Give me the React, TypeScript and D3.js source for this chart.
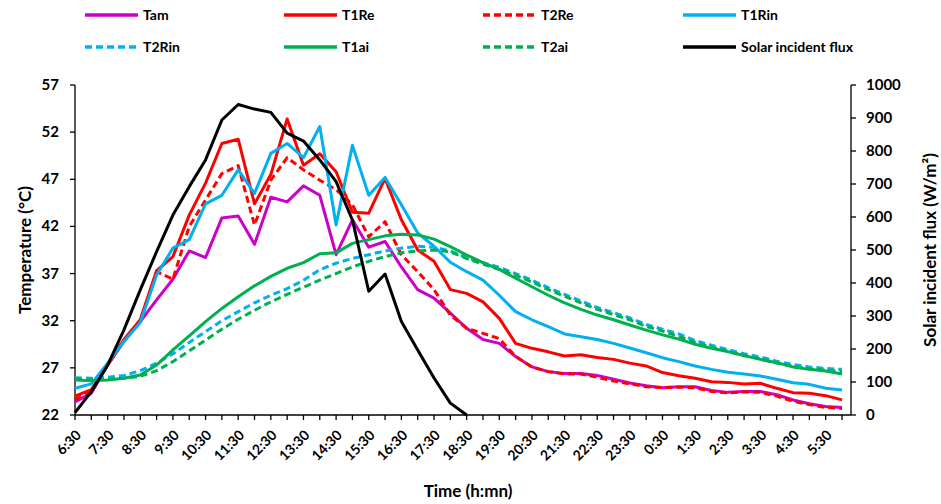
import React from "react";
import * as d3 from "d3";

// half-hour slots, 6:30 -> 6:00 next day
const timeSlots = [
  "6:30", "7:00", "7:30", "8:00", "8:30", "9:00", "9:30", "10:00", "10:30", "11:00",
  "11:30", "12:00", "12:30", "13:00", "13:30", "14:00", "14:30", "15:00", "15:30", "16:00",
  "16:30", "17:00", "17:30", "18:00", "18:30", "19:00", "19:30", "20:00", "20:30", "21:00",
  "21:30", "22:00", "22:30", "23:00", "23:30", "0:00", "0:30", "1:00", "1:30", "2:00",
  "2:30", "3:00", "3:30", "4:00", "4:30", "5:00", "5:30", "6:00",
];

const tam = [
  23.4, 24.3, 27.3, 29.8, 31.9, 34.2, 36.4, 39.4, 38.7, 42.9, 43.1, 40.1, 45.1, 44.6, 46.3, 45.3,
  39.0, 42.7, 39.8, 40.4, 37.7, 35.3, 34.4, 32.8, 31.2, 30.0, 29.6, 28.2, 27.1, 26.6, 26.4, 26.4,
  26.2, 25.8, 25.4, 25.1, 24.9, 25.0, 25.0, 24.6, 24.4, 24.5, 24.5, 24.15, 23.6, 23.2, 22.9, 22.8,
];
const t1Re = [
  24.0, 24.7, 27.3, 30.0, 32.1, 37.3, 38.8, 43.2, 46.6, 50.8, 51.25, 44.4, 47.5, 53.4, 48.5, 49.7,
  47.8, 43.5, 43.4, 47.1, 42.7, 39.5, 38.3, 35.3, 34.9, 34.0, 32.25, 29.6, 29.07, 28.7, 28.26, 28.4,
  28.1, 27.9, 27.5, 27.2, 26.5, 26.17, 25.9, 25.53, 25.46, 25.3, 25.36, 24.83, 24.37, 24.3, 24.05, 23.6,
];
const t2Re = [
  23.65, 24.5, 27.3, 29.9, 32.0, 37.2, 36.4, 42.0, 44.8, 47.6, 48.45, 42.15, 46.9, 49.3, 48.0, 46.9,
  45.9, 44.3, 40.9, 42.5, 39.0, 37.2, 35.3, 32.6, 31.2, 30.66, 30.1, 28.2, 27.1, 26.6, 26.35, 26.35,
  26.0, 25.6, 25.3, 25.0, 24.9, 24.95, 24.9, 24.5, 24.35, 24.45, 24.4, 24.0, 23.45, 23.1, 22.8, 22.7,
];
const t1Rin = [
  24.83, 25.3, 27.5, 29.8, 31.8, 36.85, 39.7, 40.6, 44.4, 45.3, 48.0, 45.5, 49.75, 50.8, 49.3, 52.6,
  42.15, 50.6, 45.3, 47.2, 44.3, 41.3, 39.9, 38.2, 37.2, 36.3, 34.7, 32.96, 32.1, 31.37, 30.6, 30.3,
  30.0, 29.6, 29.1, 28.6, 28.08, 27.66, 27.2, 26.84, 26.53, 26.35, 26.14, 25.8, 25.43, 25.25, 24.83, 24.65,
];
const t2Rin = [
  25.96, 25.9, 26.0, 26.2, 26.7, 27.5, 28.5, 29.7, 30.84, 32.0, 32.96, 33.9, 34.7, 35.4, 36.3, 37.4,
  38.1, 38.6, 39.0, 39.4, 39.7, 39.9, 39.8, 39.4, 38.7, 38.16, 37.66, 37.0, 36.3, 35.5, 34.8, 34.1,
  33.4, 32.85, 32.3, 31.6, 31.1, 30.6, 29.9, 29.4, 28.95, 28.5, 28.15, 27.7, 27.35, 27.1, 26.95, 26.84,
];
const t1ai = [
  25.7, 25.64, 25.7, 25.9, 26.24, 27.3, 28.9, 30.4, 31.9, 33.3, 34.55, 35.7, 36.7, 37.56, 38.16, 39.1,
  39.2, 40.2, 40.6, 41.0, 41.16, 41.1, 40.65, 39.85, 38.97, 38.16, 37.45, 36.5, 35.6, 34.7, 33.9, 33.2,
  32.6, 32.1, 31.55, 31.0, 30.5, 30.05, 29.5, 29.07, 28.72, 28.3, 27.9, 27.55, 27.1, 26.84, 26.67, 26.35,
];
const t2ai = [
  25.8, 25.7, 25.8, 25.9, 26.1, 26.7, 27.66, 28.8, 29.95, 31.1, 32.15, 33.1, 34.0, 34.8, 35.55, 36.3,
  37.0, 37.7, 38.3, 38.8, 39.2, 39.4, 39.5, 39.3, 38.6, 38.0, 37.45, 36.8, 36.1, 35.3, 34.6, 33.9,
  33.2, 32.65, 32.1, 31.4, 30.9, 30.35, 29.7, 29.2, 28.75, 28.3, 27.95, 27.5, 27.15, 26.9, 26.75, 26.6,
];
// solar flux only recorded 6:30 -> 18:30
const solar = [
  7, 71, 151, 258, 379, 495, 606, 692, 773, 894, 941, 927, 917, 854, 830, 773,
  707, 591, 375, 427, 283, 197, 112, 36, 0,
];

const tempTicks = [22, 27, 32, 37, 42, 47, 52, 57];
const fluxTicks = [0, 100, 200, 300, 400, 500, 600, 700, 800, 900, 1000];

const font = "Lato, sans-serif";

const series = [
  { name: "Tam", values: tam, color: "#CC00CC", dash: null, axis: "T" },
  { name: "T1Re", values: t1Re, color: "#FF0000", dash: null, axis: "T" },
  { name: "T2Re", values: t2Re, color: "#FF0000", dash: "7,4", axis: "T" },
  { name: "T1Rin", values: t1Rin, color: "#00B0F0", dash: null, axis: "T" },
  { name: "T2Rin", values: t2Rin, color: "#00B0F0", dash: "7,4", axis: "T" },
  { name: "T1ai", values: t1ai, color: "#00B050", dash: null, axis: "T" },
  { name: "T2ai", values: t2ai, color: "#00B050", dash: "7,4", axis: "T" },
  { name: "Solar incident flux", values: solar, color: "#000000", dash: null, axis: "S" },
];

export default function App() {
  const width = 941;
  const height = 504;
  const plotLeft = 75;
  const plotRight = 851;
  const plotTop = 85;
  const plotBottom = 415;

  const x = d3.scaleLinear().domain([0, timeSlots.length - 1]).range([75, 842]);
  const yT = d3.scaleLinear().domain([22, 57]).range([plotBottom, plotTop]);
  const yS = d3.scaleLinear().domain([0, 1000]).range([plotBottom, plotTop]);

  const lineT = d3.line<number>().x((d, i) => x(i)).y((d) => yT(d));
  const lineS = d3.line<number>().x((d, i) => x(i)).y((d) => yS(d));

  // legend grid: 4 columns, 2 rows
  const legendCols = [85, 284, 483, 683];
  const legendRows = [15, 47];

  return (
    <svg
      width={width}
      height={height}
      style={{ position: "absolute", left: 0, top: 0, background: "#fff" }}
      fontFamily={font}
    >
      {/* legend */}
      {series.map((s, i) => {
        const lx = legendCols[i % 4];
        const ly = legendRows[Math.floor(i / 4)];
        return (
          <g key={s.name}>
            <line
              x1={lx}
              x2={lx + 53}
              y1={ly}
              y2={ly}
              stroke={s.color}
              strokeWidth={3.5}
              strokeDasharray={s.dash || undefined}
            />
            <text x={lx + 58} y={ly + 5} fontSize={14} fontWeight="bold">
              {s.name}
            </text>
          </g>
        );
      })}

      {/* axes */}
      <line x1={plotLeft} x2={plotLeft} y1={plotTop} y2={plotBottom} stroke="#000" strokeWidth={1.3} />
      <line x1={plotRight} x2={plotRight} y1={plotTop} y2={plotBottom} stroke="#000" strokeWidth={1.3} />
      <line x1={plotLeft} x2={plotRight} y1={plotBottom} y2={plotBottom} stroke="#000" strokeWidth={1.3} />

      {tempTicks.map((t) => (
        <g key={"t" + t}>
          <line x1={plotLeft - 5} x2={plotLeft} y1={yT(t)} y2={yT(t)} stroke="#000" strokeWidth={1.3} />
          <text x={59} y={yT(t) + 5} textAnchor="end" fontSize={15} fontWeight="bold">
            {t}
          </text>
        </g>
      ))}

      {fluxTicks.map((t) => (
        <g key={"f" + t}>
          <line x1={plotRight} x2={plotRight + 5} y1={yS(t)} y2={yS(t)} stroke="#000" strokeWidth={1.3} />
          <text x={866} y={yS(t) + 5} textAnchor="start" fontSize={15} fontWeight="bold">
            {t}
          </text>
        </g>
      ))}

      {timeSlots.map((lab, i) => (
        <g key={"x" + i}>
          <line x1={x(i)} x2={x(i)} y1={plotBottom} y2={plotBottom + 5} stroke="#000" strokeWidth={1.3} />
          {i % 2 === 0 && (
            <text
              transform={`translate(${x(i) + 7},${plotBottom + 21}) rotate(-45)`}
              textAnchor="end"
              fontSize={14}
              fontWeight="bold"
            >
              {lab}
            </text>
          )}
        </g>
      ))}

      {/* series */}
      {series.map((s) => (
        <path
          key={"p" + s.name}
          d={(s.axis === "S" ? lineS : lineT)(s.values) || ""}
          fill="none"
          stroke={s.color}
          strokeWidth={3}
          strokeDasharray={s.dash || undefined}
          strokeLinejoin="round"
        />
      ))}

      {/* axis titles */}
      <text x={468} y={497} textAnchor="middle" fontSize={17} fontWeight="bold">
        Time (h:mn)
      </text>
      <text
        transform={`translate(31,250) rotate(-90)`}
        textAnchor="middle"
        fontSize={17}
        fontWeight="bold"
      >
        Temperature (°C)
      </text>
      <text
        transform={`translate(936,250) rotate(-90)`}
        textAnchor="middle"
        fontSize={17}
        fontWeight="bold"
      >
        Solar incident flux (W/m²)
      </text>
    </svg>
  );
}
